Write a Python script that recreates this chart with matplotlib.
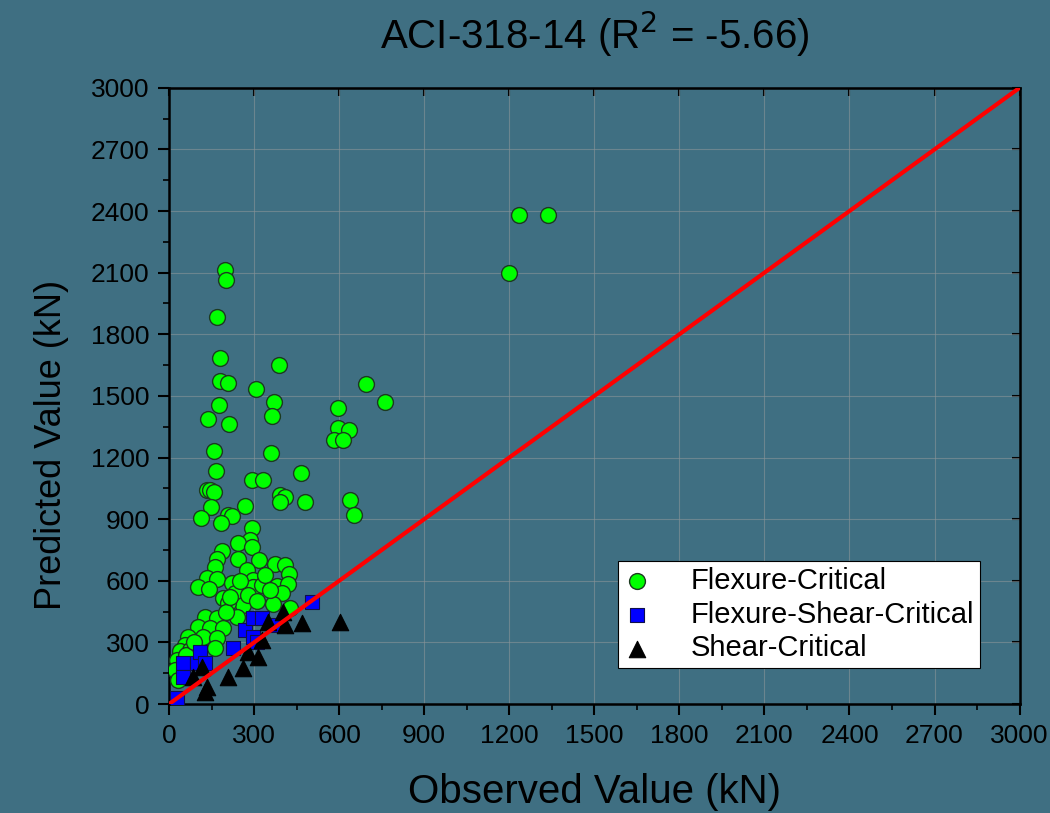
import matplotlib
matplotlib.use("Agg")
import matplotlib.pyplot as plt
from matplotlib.ticker import MultipleLocator

plt.rcParams['font.family'] = ['Liberation Sans', 'DejaVu Sans']

# Flexure-Critical (observed, predicted) in kN
flex_obs = [1234, 1336, 1199, 197, 201, 169, 180, 388, 180, 208, 307, 694, 761, 370,
            176, 363, 137, 212, 596, 596, 635, 582, 613, 159, 360, 166, 465, 293, 331,
            134, 145, 159, 391, 409, 391, 479, 638, 652, 268, 148, 113, 208, 222, 183,
            293, 286, 243, 293, 187, 169, 243, 317, 374, 409, 162, 275, 423, 134, 169,
            222, 296, 102, 257, 296, 381, 328, 419, 190, 233, 398, 261, 208, 367, 427,
            127, 169, 240, 102, 145, 190, 67, 120, 169, 56, 162, 39, 28, 21, 32, 74,
            60, 338, 356, 278, 200, 215, 250, 310, 88, 140]
flex_pred = [2381, 2381, 2099, 2114, 2065, 1885, 1685, 1651, 1573, 1563, 1534, 1558, 1471, 1471,
             1456, 1403, 1388, 1364, 1442, 1344, 1334, 1286, 1286, 1232, 1222, 1135, 1125, 1091, 1091,
             1042, 1042, 1032, 1018, 1008, 984, 984, 994, 920, 964, 959, 906, 920, 916, 881,
             857, 799, 784, 765, 745, 706, 706, 701, 682, 677, 667, 653, 633, 614, 609,
             589, 604, 570, 565, 570, 575, 580, 584, 516, 541, 541, 482, 492, 487, 468,
             424, 419, 424, 375, 370, 370, 326, 326, 321, 287, 273, 258, 214, 166, 117, 263,
             239, 628, 555, 531, 450, 520, 600, 500, 300, 560]

# Flexure-Shear-Critical
fs_obs = [28, 49, 49, 99, 109, 127, 226, 268, 296, 310, 296, 328, 367, 504]
fs_pred = [29, 200, 131, 200, 253, 200, 273, 360, 326, 302, 419, 419, 385, 497]

# Shear-Critical
sh_obs = [85, 116, 134, 127, 208, 261, 314, 278, 328, 349, 402, 409, 469, 603]
sh_pred = [131, 180, 83, 58, 131, 175, 229, 253, 312, 399, 448, 385, 394, 399]

bg = '#3f6f82'
fig = plt.figure(figsize=(10.5, 8.13), dpi=100, facecolor=bg)
ax = fig.add_axes([0.161, 0.134, 0.81, 0.758], facecolor=bg)

ax.scatter(flex_obs, flex_pred, s=130, marker='o', color='#00ff00',
           edgecolors='#1c3a20', linewidths=1.0, label='Flexure-Critical', zorder=3)
ax.scatter(fs_obs, fs_pred, s=105, marker='s', color='#0000ff',
           edgecolors='#10104a', linewidths=0.8, label='Flexure-Shear-Critical', zorder=4)
ax.scatter(sh_obs, sh_pred, s=140, marker='^', color='black',
           edgecolors='black', linewidths=0.8, label='Shear-Critical', zorder=5)
ax.plot([0, 3000], [0, 3000], color='red', lw=3, zorder=6)

ax.set_xlim(0, 3000)
ax.set_ylim(0, 3000)
ax.xaxis.set_major_locator(MultipleLocator(300))
ax.yaxis.set_major_locator(MultipleLocator(300))
ax.xaxis.set_minor_locator(MultipleLocator(150))
ax.yaxis.set_minor_locator(MultipleLocator(150))
ax.tick_params(which='major', direction='out', length=8, width=1.5, labelsize=19,
               pad=6, top=False, right=False)
ax.tick_params(which='minor', direction='out', length=4.5, width=1.2)
for s in ax.spines.values():
    s.set_linewidth(1.8)
    s.set_color('black')

# inward ticks on top and right
axt = ax.secondary_xaxis('top')
axt.xaxis.set_major_locator(MultipleLocator(300))
axt.tick_params(direction='in', length=6, width=1.5)
axt.set_xticklabels([])
axr = ax.secondary_yaxis('right')
axr.yaxis.set_major_locator(MultipleLocator(300))
axr.tick_params(direction='in', length=6, width=1.5)
axr.set_yticklabels([])

ax.grid(True, which='major', color='#8a9499', lw=0.8, alpha=0.6)
ax.set_axisbelow(True)

ax.set_xlabel('Observed Value (kN)', fontsize=29, labelpad=18)
ax.set_ylabel('Predicted Value (kN)', fontsize=26)
ax.yaxis.set_label_coords(-0.118, 0.42)
ax.set_title('ACI-318-14 (R$^2$ = -5.66)', fontsize=29, pad=28)

leg = ax.legend(loc='lower right', bbox_to_anchor=(0.954, 0.058), fontsize=21,
                frameon=True, fancybox=False, framealpha=1, edgecolor='black',
                borderpad=0.2, handlelength=0.9, handletextpad=1.4,
                labelspacing=0.2, borderaxespad=0, markerscale=1.0)
leg.get_frame().set_linewidth(0.8)

plt.savefig('out.png', dpi=100, facecolor=bg)
